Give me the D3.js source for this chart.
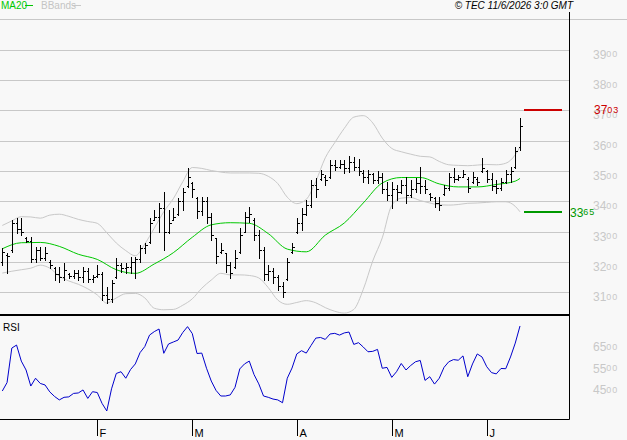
<!DOCTYPE html>
<html>
<head>
<meta charset="utf-8">
<script src="https://d3js.org/d3.v7.min.js"></script>
<style>
    body { margin: 0; background: #f8f8f8; }
    text { font-family: "Liberation Sans", Arial, sans-serif; }
</style>
</head>
<body>
<div id="canvas"></div>
<script>
"use strict"

/* Configuration variables: drawing */
let svgWidth = 627;
let svgHeight = 440;
/* panel edges */
let plotRight = 569.5;
let priceTop = 19.5;
let priceBottom = 314;
let rsiTop = 316;
let rsiBottom = 419.5;

/* Daily bars, Jan -> Jun */
let highs = [3247, 3230, 3339, 3345, 3345, 3283, 3283, 3250, 3250, 3250,
    3207, 3184, 3184, 3197, 3164, 3174, 3174, 3184, 3181, 3158,
    3191, 3168, 3118, 3141, 3214, 3197, 3197, 3217, 3217, 3256,
    3263, 3345, 3372, 3395, 3431, 3372, 3378, 3411, 3444, 3510,
    3464, 3414, 3414, 3414, 3362, 3280, 3263, 3230, 3201, 3240,
    3312, 3365, 3382, 3345, 3306, 3250, 3191, 3181, 3158, 3135,
    3214, 3263, 3345, 3378, 3405, 3470, 3477, 3503, 3487, 3536,
    3536, 3536, 3536, 3549, 3546, 3540, 3503, 3503, 3493, 3500,
    3493, 3464, 3464, 3454, 3470, 3480, 3470, 3477, 3513, 3470,
    3428, 3414, 3414, 3454, 3493, 3510, 3487, 3503, 3480, 3497,
    3480, 3543, 3503, 3493, 3470, 3477, 3503, 3513, 3579, 3675];
let lows = [3191, 3164, 3233, 3296, 3289, 3266, 3200, 3200, 3207, 3207,
    3181, 3141, 3135, 3141, 3148, 3148, 3141, 3135, 3135, 3135,
    3151, 3075, 3066, 3069, 3148, 3168, 3164, 3164, 3148, 3200,
    3230, 3263, 3339, 3299, 3240, 3296, 3339, 3355, 3372, 3447,
    3414, 3345, 3355, 3329, 3273, 3197, 3230, 3168, 3148, 3181,
    3230, 3299, 3332, 3273, 3214, 3141, 3141, 3131, 3108, 3085,
    3141, 3230, 3296, 3306, 3355, 3382, 3414, 3470, 3454, 3477,
    3503, 3510, 3493, 3497, 3503, 3487, 3464, 3461, 3461, 3461,
    3428, 3405, 3378, 3405, 3428, 3395, 3414, 3431, 3428, 3428,
    3405, 3382, 3372, 3421, 3438, 3464, 3470, 3480, 3431, 3461,
    3454, 3497, 3464, 3438, 3428, 3438, 3461, 3464, 3510, 3569];
let opens = [3200, 3225, 3240, 3330, 3310, 3280, 3270, 3210, 3240, 3215,
    3200, 3180, 3160, 3150, 3160, 3155, 3165, 3150, 3170, 3145,
    3155, 3160, 3090, 3080, 3150, 3190, 3180, 3185, 3200, 3210,
    3245, 3265, 3340, 3350, 3380, 3300, 3340, 3360, 3400, 3450,
    3460, 3410, 3370, 3400, 3350, 3280, 3235, 3230, 3190, 3185,
    3235, 3300, 3350, 3340, 3290, 3240, 3160, 3170, 3150, 3120,
    3145, 3235, 3300, 3330, 3360, 3390, 3455, 3475, 3480, 3480,
    3520, 3515, 3525, 3510, 3530, 3515, 3495, 3480, 3490, 3470,
    3480, 3440, 3420, 3440, 3430, 3455, 3420, 3440, 3460, 3450,
    3425, 3410, 3395, 3425, 3445, 3480, 3475, 3480, 3475, 3465,
    3475, 3500, 3500, 3475, 3450, 3445, 3465, 3490, 3515, 3580];
let closes = [3235, 3220, 3330, 3310, 3300, 3270, 3210, 3240, 3215, 3230,
    3190, 3160, 3150, 3175, 3155, 3165, 3150, 3170, 3145, 3150,
    3160, 3090, 3080, 3130, 3190, 3180, 3185, 3200, 3210, 3245,
    3255, 3330, 3350, 3380, 3300, 3330, 3350, 3400, 3430, 3480,
    3440, 3370, 3400, 3350, 3290, 3220, 3240, 3190, 3165, 3215,
    3290, 3350, 3360, 3290, 3240, 3160, 3170, 3150, 3120, 3100,
    3200, 3250, 3330, 3360, 3390, 3455, 3440, 3490, 3470, 3520,
    3515, 3525, 3510, 3530, 3515, 3500, 3480, 3490, 3470, 3480,
    3440, 3420, 3440, 3430, 3455, 3420, 3440, 3460, 3450, 3440,
    3415, 3395, 3390, 3445, 3480, 3475, 3480, 3490, 3445, 3480,
    3465, 3510, 3475, 3450, 3445, 3465, 3490, 3500, 3565, 3650];

/* MA20 read every 4 bars */
let maDays = [0, 4, 8, 12, 16, 20, 24, 28, 32, 36, 40, 44, 48, 52, 56,
    60, 64, 68, 72, 76, 80, 84, 88, 92, 96, 100, 104, 108, 109];
let ma20 = [3244, 3264, 3265, 3252, 3226, 3209, 3175, 3163, 3194, 3231, 3282, 3323, 3330, 3328, 3294,
    3243, 3234, 3289, 3329, 3395, 3461, 3479, 3479, 3458, 3448, 3448, 3456, 3467, 3476];

/* Bollinger bands read every 2 bars */
let bandDays = [0, 2, 4, 6, 8, 10, 12, 14, 16, 18, 20, 22, 24, 26, 28, 30, 32, 34, 36, 38,
    40, 42, 44, 46, 48, 50, 52, 54, 56, 58, 60, 62, 64, 66, 68, 70, 72, 74, 76, 78,
    80, 82, 84, 86, 88, 90, 92, 94, 96, 98, 100, 102, 104, 106, 108, 109];
let bbUpper = [3321, 3336, 3350, 3349, 3345, 3355, 3358, 3351, 3341, 3334, 3328, 3297, 3263, 3238, 3221, 3260, 3312, 3366, 3409, 3465,
    3512, 3509, 3502, 3497, 3494, 3494, 3494, 3493, 3483, 3459, 3414, 3393, 3407, 3466, 3544, 3594, 3641, 3678, 3683, 3659,
    3609, 3575, 3564, 3556, 3549, 3547, 3532, 3521, 3519, 3518, 3520, 3522, 3521, 3526, 3554, 3580];
let bbLower = [3164, 3170, 3175, 3180, 3190, 3180, 3154, 3138, 3127, 3112, 3092, 3065, 3082, 3096, 3097, 3082, 3048, 3043, 3044, 3058,
    3079, 3114, 3141, 3163, 3158, 3158, 3156, 3148, 3116, 3075, 3061, 3067, 3073, 3066, 3050, 3038, 3032, 3044, 3110, 3204,
    3280, 3387, 3411, 3413, 3403, 3395, 3389, 3388, 3390, 3394, 3395, 3397, 3399, 3399, 3384, 3366];

/* RSI, one value per bar */
let rsi = [42.4, 46.3, 62.2, 63.6, 56.2, 52.1, 44.7, 48.3, 45.9, 45.2,
    42.0, 39.9, 38.3, 39.5, 39.7, 41.3, 41.5, 42.9, 39.0, 42.1,
    41.7, 36.7, 33.2, 43.4, 50.5, 51.3, 48.3, 52.3, 54.9, 60.1,
    62.9, 68.2, 69.8, 71.0, 59.8, 64.1, 65.0, 65.9, 69.4, 72.1,
    68.9, 59.7, 59.9, 52.9, 47.0, 42.7, 40.1, 40.1, 40.6, 44.1,
    52.6, 54.9, 56.2, 50.0, 45.7, 40.1, 39.5, 38.7, 38.3, 37.0,
    48.3, 53.0, 59.5, 61.0, 59.9, 63.4, 66.8, 67.1, 66.2, 68.7,
    69.0, 68.2, 69.2, 69.6, 63.9, 64.7, 62.7, 60.5, 60.7, 61.6,
    52.9, 53.3, 48.7, 51.3, 55.1, 52.1, 54.2, 55.9, 56.5, 47.3,
    49.0, 45.6, 48.3, 53.3, 55.9, 56.9, 56.6, 58.6, 49.0, 54.9,
    59.5, 58.1, 53.6, 50.9, 50.3, 52.8, 52.7, 58.1, 64.5, 72.4];

/* Axis ticks and levels */
let priceTicks = [3100, 3200, 3300, 3400, 3500, 3600, 3700, 3800, 3900];
let rsiTicks = [65, 55, 45];
let monthDays = [20, 40, 62, 82, 102];
let monthLabels = ["F", "M", "A", "M", "J"];
let resistance = 3703;
let support = 3365;

let svg = d3.select("#canvas")
    .append("svg")
    .attr("width", svgWidth)
    .attr("height", svgHeight);

svg.append("rect")
    .attr("width", svgWidth)
    .attr("height", svgHeight)
    .attr("fill", "#f8f8f8");

/* Scales */
let xScale = d3.scaleLinear()
    .domain([0, highs.length - 1])
    .range([2.3, 520]);

let yScale = d3.scaleLinear()
    .domain([3029, 4000])
    .range([priceBottom, priceTop]);

let rsiScale = d3.scaleLinear()
    .domain([29.5, 77])
    .range([419, rsiTop]);

/* snap to the pixel grid */
function px(v) {
    return Math.round(v) + 0.5;
}

/* clip areas for the two panels */
let defs = svg.append("defs");
defs.append("clipPath").attr("id", "clipPrice")
    .append("rect").attr("x", 0).attr("y", 20).attr("width", 569).attr("height", 294);
defs.append("clipPath").attr("id", "clipRsi")
    .append("rect").attr("x", 0).attr("y", rsiTop).attr("width", 569).attr("height", 103);

/* legend at the top */
svg.append("text").attr("x", 1).attr("y", 9).attr("font-size", 10).attr("fill", "#00c800").text("MA20");
svg.append("line").attr("x1", 25).attr("x2", 33).attr("y1", 5.5).attr("y2", 5.5).attr("stroke", "#00c800");
svg.append("text").attr("x", 41).attr("y", 9).attr("font-size", 10).attr("fill", "#c4c4c4").text("BBands");
svg.append("line").attr("x1", 72).attr("x2", 81).attr("y1", 5.5).attr("y2", 5.5).attr("stroke", "#c8c8c8");
svg.append("text")
    .attr("x", 573)
    .attr("y", 9)
    .attr("font-size", 10)
    .attr("font-style", "italic")
    .attr("text-anchor", "end")
    .text("© TEC 11/6/2026 3:0 GMT");

svg.append("line")
    .attr("x1", 0).attr("x2", svgWidth)
    .attr("y1", priceTop).attr("y2", priceTop)
    .attr("stroke", "#c8c8c8");

/* horizontal grid */
for (let i = 0; i < priceTicks.length; i++) {
    svg.append("line")
        .attr("x1", 0).attr("x2", 569)
        .attr("y1", px(yScale(priceTicks[i])))
        .attr("y2", px(yScale(priceTicks[i])))
        .attr("stroke", "#c8c8c8");
}

/* value label with the last two digits smaller, like the original */
function levelLabel(x, y, big, small, color) {
    let t = svg.append("text")
        .attr("x", x)
        .attr("y", y)
        .attr("fill", color);
    t.append("tspan").attr("font-size", 12).text(big);
    t.append("tspan").attr("font-size", 9).attr("dy", -1.5).attr("letter-spacing", 0.8).text(small);
}

for (let i = 0; i < priceTicks.length; i++) {
    let s = String(priceTicks[i]);
    levelLabel(593, yScale(priceTicks[i]) + 9, s.slice(0, 2), s.slice(2), "#c8c8c8");
}

/* Bollinger bands */
let bandLine = d3.line()
    .x(function (d) { return xScale(d[0]); })
    .y(function (d) { return yScale(d[1]); })
    .curve(d3.curveMonotoneX);

let bandGroup = svg.append("g").attr("clip-path", "url(#clipPrice)");
bandGroup.append("path")
    .attr("d", bandLine(bandDays.map(function (d, i) { return [d, bbUpper[i]]; })))
    .attr("fill", "none")
    .attr("stroke", "#c8c8c8");
bandGroup.append("path")
    .attr("d", bandLine(bandDays.map(function (d, i) { return [d, bbLower[i]]; })))
    .attr("fill", "none")
    .attr("stroke", "#c8c8c8");

/* MA20 */
bandGroup.append("path")
    .attr("d", bandLine(maDays.map(function (d, i) { return [d, ma20[i]]; })))
    .attr("fill", "none")
    .attr("stroke", "#00c800");

/* OHLC bars */
let bars = svg.append("g")
    .attr("clip-path", "url(#clipPrice)")
    .attr("stroke", "#000")
    .attr("shape-rendering", "crispEdges");

for (let i = 0; i < highs.length; i++) {
    let bx = px(xScale(i));
    bars.append("line")
        .attr("x1", bx).attr("x2", bx)
        .attr("y1", Math.round(yScale(highs[i])))
        .attr("y2", Math.round(yScale(lows[i])) + 1);
    bars.append("line")
        .attr("x1", bx - 2).attr("x2", bx)
        .attr("y1", px(yScale(opens[i]))).attr("y2", px(yScale(opens[i])));
    bars.append("line")
        .attr("x1", bx).attr("x2", bx + 2)
        .attr("y1", px(yScale(closes[i]))).attr("y2", px(yScale(closes[i])));
}

/* resistance / support levels */
svg.append("line")
    .attr("x1", 524).attr("x2", 562)
    .attr("y1", Math.round(yScale(resistance))).attr("y2", Math.round(yScale(resistance)))
    .attr("stroke", "#cc0000").attr("stroke-width", 2);
levelLabel(594, yScale(resistance) + 4.5, String(resistance).slice(0, 2), String(resistance).slice(2), "#cc0000");

svg.append("line")
    .attr("x1", 524).attr("x2", 562)
    .attr("y1", Math.round(yScale(support))).attr("y2", Math.round(yScale(support)))
    .attr("stroke", "#009900").attr("stroke-width", 2);
levelLabel(570, yScale(support) + 4.5, String(support).slice(0, 2), String(support).slice(2), "#009900");

/* RSI panel */
let rsiLine = d3.line()
    .x(function (d, i) { return xScale(i); })
    .y(function (d) { return rsiScale(d); });

svg.append("path")
    .attr("clip-path", "url(#clipRsi)")
    .attr("d", rsiLine(rsi))
    .attr("fill", "none")
    .attr("stroke", "#0000cc");

svg.append("text").attr("x", 3).attr("y", 331).attr("font-size", 10).text("RSI");

for (let i = 0; i < rsiTicks.length; i++) {
    levelLabel(593, rsiScale(rsiTicks[i]) + 9, String(rsiTicks[i]), "00", "#c8c8c8");
}

/* frame */
svg.append("line")
    .attr("x1", 0).attr("x2", plotRight)
    .attr("y1", 315).attr("y2", 315)
    .attr("stroke", "#000").attr("stroke-width", 2);
svg.append("line")
    .attr("x1", plotRight).attr("x2", plotRight)
    .attr("y1", 12).attr("y2", rsiBottom)
    .attr("stroke", "#000");
svg.append("line")
    .attr("x1", 0).attr("x2", plotRight)
    .attr("y1", rsiBottom).attr("y2", rsiBottom)
    .attr("stroke", "#000");

/* month ticks */
for (let i = 0; i < monthDays.length; i++) {
    let mx = px(xScale(monthDays[i]));
    svg.append("line")
        .attr("x1", mx).attr("x2", mx)
        .attr("y1", rsiBottom).attr("y2", 436)
        .attr("stroke", "#000");
    svg.append("text")
        .attr("x", mx + 2)
        .attr("y", 437)
        .attr("font-size", 11)
        .text(monthLabels[i]);
}
</script>
</body>
</html>
